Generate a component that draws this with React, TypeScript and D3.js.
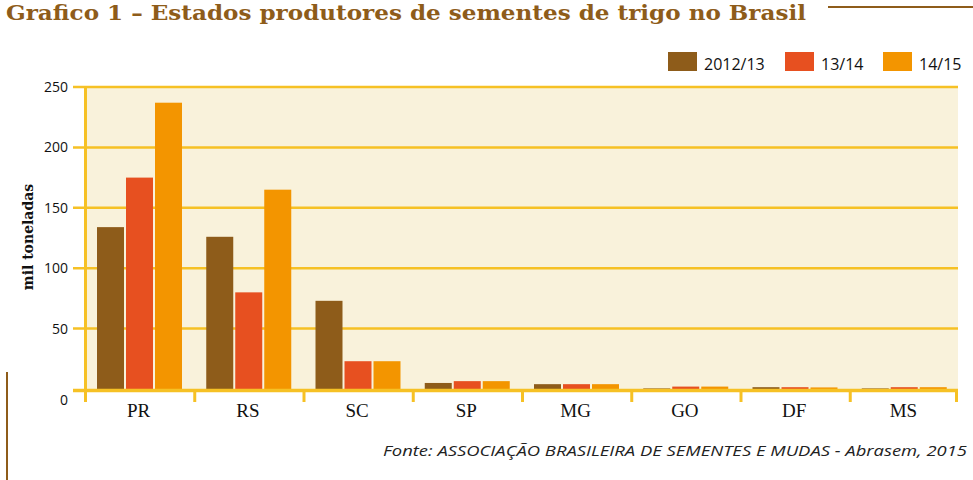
import * as d3 from "d3";

const states = ["PR", "RS", "SC", "SP", "MG", "GO", "DF", "MS"];
const seriesNames = ["2012/13", "13/14", "14/15"];
const v2012 = [134, 126, 73, 5, 4, 0.5, 1.5, 0.5];
const v2013 = [175, 80, 23, 6.5, 4, 2, 1.5, 1.5];
const v2014 = [237, 165, 23, 6.5, 4, 2, 1.3, 1.5];
const yTicks = [0, 50, 100, 150, 200, 250];

const colors = ["#8e5c1a", "#e75020", "#f39500"];
const yellow = "#f6c125";
const cream = "#f9f2db";
const brown = "#8e5c1a";

export default function App() {
  const width = 973;
  const height = 480;
  const left = 84;
  const right = 958;

  const x = d3.scaleBand<string>().domain(states).range([left, right]);
  const xs = d3.scaleBand<string>().domain(seriesNames).range([13, 98]).paddingInner(0.069);
  const y = d3.scaleLinear().domain([0, 250]).range([389, 87]);

  const values = [v2012, v2013, v2014];

  // boundaries between categories for the ticks under the axis
  const edges = states.map((s) => x(s) as number).concat([right]);

  return (
    <svg
      width={width}
      height={height}
      style={{ position: "absolute", left: 0, top: 0, background: "#fff" }}
    >
      {/* title */}
      <text
        x={6}
        y={20}
        fill={brown}
        fontFamily="'DejaVu Serif', serif"
        fontWeight="bold"
        fontSize={21}
        textLength={800}
        lengthAdjust="spacingAndGlyphs"
      >
        Grafico 1 – Estados produtores de sementes de trigo no Brasil
      </text>
      <line x1={828} x2={973} y1={7} y2={7} stroke={brown} strokeWidth={2} />

      {/* legend */}
      {seriesNames.map((s, i) => {
        const lx = [668, 785, 883][i];
        return (
          <g key={s}>
            <rect x={lx} y={52} width={29} height={19} fill={colors[i]} />
            <text
              x={lx + 36}
              y={70}
              fontFamily="'Open Sans', sans-serif"
              fontSize={16}
              fill="#111"
            >
              {s}
            </text>
          </g>
        );
      })}

      {/* plot background */}
      <rect x={left + 2} y={y(250)} width={right - left - 2} height={y(0) - y(250)} fill={cream} />

      {/* gridlines */}
      {yTicks.filter((t) => t > 0).map((t) => (
        <line key={t} x1={73} x2={right} y1={y(t)} y2={y(t)} stroke={yellow} strokeWidth={2.5} />
      ))}

      {/* bars */}
      {states.map((s, i) => (
        <g key={s} transform={`translate(${x(s)},0)`}>
          {values.map((vals, j) => (
            <rect
              key={j}
              x={xs(seriesNames[j])}
              y={y(vals[i])}
              width={xs.bandwidth()}
              height={y(0) - y(vals[i])}
              fill={colors[j]}
            />
          ))}
        </g>
      ))}

      {/* axes */}
      <line x1={left + 1.5} x2={left + 1.5} y1={y(250)} y2={402} stroke={yellow} strokeWidth={3} />
      <line x1={73} x2={right} y1={y(0) + 1.5} y2={y(0) + 1.5} stroke={yellow} strokeWidth={3.5} />
      {edges.map((e, i) => (
        <line
          key={i}
          x1={i === edges.length - 1 ? e - 1.5 : e + 1.5}
          x2={i === edges.length - 1 ? e - 1.5 : e + 1.5}
          y1={y(0)}
          y2={402}
          stroke={yellow}
          strokeWidth={3}
        />
      ))}

      {/* y tick labels */}
      {yTicks.map((t) => (
        <text
          key={t}
          x={68}
          y={t === 0 ? y(t) + 11 : y(t)}
          dy="0.35em"
          textAnchor="end"
          fontFamily="'Open Sans', sans-serif"
          fontSize={14}
          fill="#111"
        >
          {t}
        </text>
      ))}

      {/* y axis title */}
      <text
        transform={`translate(33,237) rotate(-90)`}
        textAnchor="middle"
        fontFamily="'DejaVu Serif', serif"
        fontWeight="bold"
        fontSize={14}
        fill="#111"
      >
        mil toneladas
      </text>

      {/* category labels */}
      {states.map((s) => (
        <text
          key={s}
          x={(x(s) as number) + x.bandwidth() / 2}
          y={417}
          textAnchor="middle"
          fontFamily="'Liberation Serif', serif"
          fontSize={19}
          fill="#111"
        >
          {s}
        </text>
      ))}

      {/* source */}
      <text
        x={383}
        y={456}
        fontFamily="'Open Sans', sans-serif"
        fontStyle="italic"
        fontSize={14}
        fill="#222"
        textLength={584}
        lengthAdjust="spacingAndGlyphs"
      >
        Fonte: ASSOCIAÇÃO BRASILEIRA DE SEMENTES E MUDAS - Abrasem, 2015
      </text>

      {/* decorative left rule */}
      <line x1={7} x2={7} y1={372} y2={480} stroke={brown} strokeWidth={2} />
    </svg>
  );
}
